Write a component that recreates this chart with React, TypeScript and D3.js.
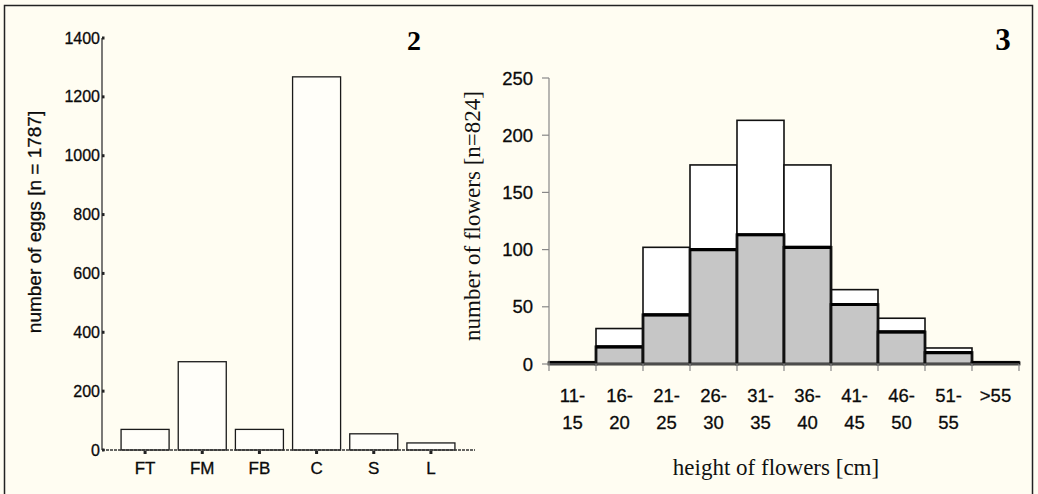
import React from "react";
import * as d3 from "d3";

// ---- Chart 2: eggs by position ----
const eggCategories = ["FT", "FM", "FB", "C", "S", "L"];
const eggValues = [70, 300, 70, 1268, 55, 24];
const eggTicks = [0, 200, 400, 600, 800, 1000, 1200, 1400];

// ---- Chart 3: flowers by height ----
const heightBinsTop = ["11-", "16-", "21-", "26-", "31-", "36-", "41-", "46-", "51-", ">55"];
const heightBinsBottom = ["15", "20", "25", "30", "35", "40", "45", "50", "55", ""];
const flowerTotals = [2, 31, 102, 174, 213, 174, 65, 40, 14, 2];
const flowerShaded = [1, 15, 43, 100, 113, 102, 52, 28, 10, 1];
const flowerTicks = [0, 50, 100, 150, 200, 250];

const W = 1038;
const H = 494;
const BG = "#fffdf2";
const SANS = "'Liberation Sans', Arial, sans-serif";
const SERIF = "'Liberation Serif', 'Times New Roman', serif";
const TXT = { fill: "#0a0a0a", stroke: "#0a0a0a", strokeWidth: 0.3 };

export default function App() {
  // left chart scales
  const lx = d3.scaleBand<string>().domain(eggCategories).range([116.5, 459.5]).paddingInner(0.16).paddingOuter(0.08);
  const ly = d3.scaleLinear().domain([0, 1400]).range([450, 38]);
  const lAxisX = 102;

  // right chart scales
  const idx = d3.range(heightBinsTop.length).map(String);
  const rx = d3.scaleBand<string>().domain(idx).range([549, 1019]).padding(0);
  const ry = d3.scaleLinear().domain([0, 250]).range([364, 78]);
  const rAxisX = 549;

  return (
    <svg width={W} height={H} style={{ position: "absolute", left: 0, top: 0 }} xmlns="http://www.w3.org/2000/svg">
      <rect x={0} y={0} width={W} height={H} fill={BG} />
      <rect x={4.5} y={5.5} width={1028} height={520} fill="none" stroke="#222" strokeWidth={1.5} />

      {/* ===== Left chart ===== */}
      <text x={414} y={50} fontFamily={SERIF} fontWeight="bold" fontSize={28} textAnchor="middle">2</text>
      {eggCategories.map((c, i) => (
        <rect key={c} x={lx(c)!} y={ly(eggValues[i])} width={lx.bandwidth()} height={ly(0) - ly(eggValues[i])}
          fill="#fffef9" stroke="#1a1a1a" strokeWidth={1.3} />
      ))}
      <line x1={lAxisX} x2={lAxisX} y1={ly(1400)} y2={ly(0)} stroke="#333" strokeWidth={1.3} />
      <line x1={lAxisX} x2={475} y1={ly(0)} y2={ly(0)} stroke="#333" strokeWidth={1.3} strokeDasharray="3 1" />
      {eggTicks.map((t) => (
        <g key={t}>
          <rect x={lAxisX} y={ly(t) - 1.5} width={2.5} height={3} fill="#222" />
          <text x={lAxisX - 2} y={ly(t) + 5.5} fontFamily={SANS} fontSize={16} textAnchor="end" {...TXT}>{t}</text>
        </g>
      ))}
      {eggCategories.map((c) => {
        const cx = lx(c)! + lx.bandwidth() / 2;
        return (
          <g key={c}>
            <rect x={cx - 1.5} y={ly(0) + 1} width={3} height={3} fill="#222" />
            <text x={cx} y={473.5} fontFamily={SANS} fontSize={17} textAnchor="middle" {...TXT}>{c}</text>
          </g>
        );
      })}
      <text transform={`translate(41,222) rotate(-90)`} fontFamily={SANS} fontSize={19} textAnchor="middle" {...TXT}>
        number of eggs [n = 1787]
      </text>

      {/* ===== Right chart ===== */}
      <text x={1003} y={50} fontFamily={SERIF} fontWeight="bold" fontSize={31} textAnchor="middle">3</text>
      {idx.map((k, i) => {
        const x = rx(k)!;
        const w = rx.bandwidth();
        return (
          <g key={"t" + k}>
            <rect x={x} y={ry(flowerTotals[i])} width={w} height={ry(0) - ry(flowerTotals[i])}
              fill="#ffffff" stroke="#111" strokeWidth={1.6} />
          </g>
        );
      })}
      {idx.map((k, i) => {
        const x = rx(k)!;
        const w = rx.bandwidth();
        return (
          <g key={"s" + k}>
            <rect x={x} y={ry(flowerShaded[i])} width={w} height={ry(0) - ry(flowerShaded[i])}
              fill="#c6c6c6" stroke="#111" strokeWidth={2.8} />
            <line x1={x} x2={x + w} y1={ry(flowerShaded[i])} y2={ry(flowerShaded[i])} stroke="#000" strokeWidth={3.2} />
          </g>
        );
      })}
      <line x1={rAxisX} x2={rAxisX} y1={ry(250)} y2={ry(0)} stroke="#888" strokeWidth={1.2} />
      <line x1={rAxisX} x2={1019} y1={ry(0)} y2={ry(0)} stroke="#888" strokeWidth={1.2} />
      {flowerTicks.map((t) => (
        <g key={t}>
          <line x1={rAxisX - 7} x2={rAxisX} y1={ry(t)} y2={ry(t)} stroke="#888" strokeWidth={1.2} />
          <text x={rAxisX - 16} y={ry(t) + 6.5} fontFamily={SANS} fontSize={18.5} textAnchor="end" {...TXT}>{t}</text>
        </g>
      ))}
      {idx.map((k) => (
        <line key={"e" + k} x1={rx(k)!} x2={rx(k)!} y1={ry(0)} y2={ry(0) + 7} stroke="#888" strokeWidth={1.2} />
      ))}
      <line x1={1019} x2={1019} y1={ry(0)} y2={ry(0) + 7} stroke="#888" strokeWidth={1.2} />
      {idx.map((k, i) => {
        const cx = rx(k)! + rx.bandwidth() / 2;
        return (
          <g key={"l" + k}>
            <text x={cx} y={401.5} fontFamily={SANS} fontSize={18.5} textAnchor="middle" {...TXT}>{heightBinsTop[i]}</text>
            <text x={cx} y={428.5} fontFamily={SANS} fontSize={18.5} textAnchor="middle" {...TXT}>{heightBinsBottom[i]}</text>
          </g>
        );
      })}
      <text x={776} y={475} fontFamily={SERIF} fontSize={23} textAnchor="middle" fill="#111">height of flowers [cm]</text>
      <text transform={`translate(480,216) rotate(-90)`} fontFamily={SERIF} fontSize={23} textAnchor="middle" fill="#111">
        number of flowers [n=824]
      </text>
    </svg>
  );
}
